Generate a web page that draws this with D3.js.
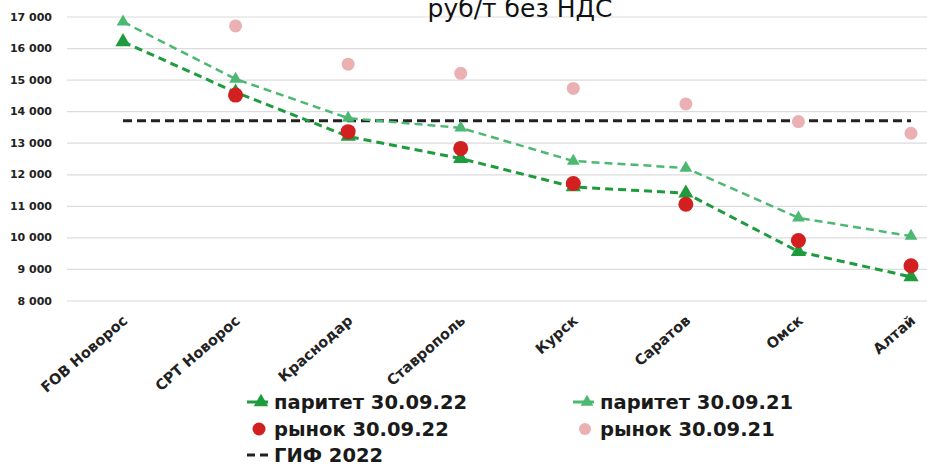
<!DOCTYPE html>
<html>
<head>
<meta charset="utf-8">
<script src="https://cdn.jsdelivr.net/npm/d3@7"></script>
<style>
  html, body { margin: 0; padding: 0; background: #fff; }
  svg { display: block; }
</style>
</head>
<body>
<svg id="chart"></svg>
<script>
// значения, руб/т без НДС
var categories = ['FOB Новорос', 'CPT Новорос', 'Краснодар', 'Ставрополь', 'Курск', 'Саратов', 'Омск', 'Алтай']
var parity22 = [16200, 14600, 13200, 12500, 11600, 11400, 9550, 8750]
var parity21 = [16830, 15020, 13780, 13470, 12420, 12200, 10620, 10040]
var market22 = [null, 14510, 13350, 12820, 11710, 11050, 9900, 9100]
var market21 = [null, 16700, 15490, 15200, 14720, 14230, 13670, 13300]
var gif2022 = [13700, 13700, 13700, 13700, 13700, 13700, 13700, 13700]
var yTicks = [8000, 9000, 10000, 11000, 12000, 13000, 14000, 15000, 16000, 17000]

var legendItems = [
    {name: 'паритет 30.09.22', kind: 'tri', col: 0, row: 0},
    {name: 'рынок 30.09.22', kind: 'dot', col: 0, row: 1},
    {name: 'ГИФ 2022', kind: 'dash', col: 0, row: 2},
    {name: 'паритет 30.09.21', kind: 'tri', col: 1, row: 0},
    {name: 'рынок 30.09.21', kind: 'dot', col: 1, row: 1}
]

var width = 927,
    height = 467

var darkGreen = '#1e9b3d',
    lightGreen = '#4cb872',
    red = '#d21f1f',
    pink = '#eab0b2'

var svg = d3.select('#chart')
    .attr('width', width)
    .attr('height', height)

var x = d3.scalePoint().domain(categories).range([123, 911])
var y = d3.scaleLinear().domain([8000, 17000]).range([300.5, 16.5])

var fmt = d3.formatLocale({decimal: ',', thousands: ' ', grouping: [3], currency: ['', '']}).format(',d')

// сетка и подписи оси Y
var yAxis = d3.axisLeft(y).tickValues(yTicks).tickFormat(fmt).tickSize(-(width - 67)).tickPadding(15)
var gy = svg.append('g')
    .attr('transform', 'translate(67,0)')
    .call(yAxis)
gy.select('.domain').remove()
gy.selectAll('.tick line').attr('stroke', '#dcdcdc').attr('stroke-width', 1.2)
gy.selectAll('.tick text')
    .attr('fill', '#222')
    .style('font-family', 'DejaVu Sans')
    .style('font-weight', 'bold')
    .style('font-size', '11px')

// заголовок (в оригинале обрезан сверху)
svg.append('text')
    .attr('x', 520)
    .attr('y', 17)
    .attr('text-anchor', 'middle')
    .attr('fill', '#111')
    .style('font-family', 'DejaVu Sans')
    .style('font-size', '25px')
    .text('руб/т без НДС')

// подписи категорий
var gx = svg.append('g')
    .attr('transform', 'translate(0,301)')
    .call(d3.axisBottom(x).tickSize(0).tickPadding(0))
gx.select('.domain').remove()
gx.selectAll('.tick text')
    .attr('text-anchor', 'end')
    .attr('dy', 0)
    .attr('transform', 'translate(5,21) rotate(-41)')
    .attr('fill', '#222')
    .style('font-family', 'DejaVu Sans')
    .style('font-weight', 'bold')
    .style('font-size', '14.5px')

var line = d3.line()
    .defined(function(d) { return d != null })
    .x(function(d, i) { return x(categories[i]) })
    .y(function(d) { return y(d) })

svg.append('path').datum(gif2022)
    .attr('d', line)
    .attr('fill', 'none')
    .attr('stroke', '#222')
    .attr('stroke-width', 3)
    .attr('stroke-dasharray', '9,5')

svg.append('path').datum(parity21)
    .attr('d', line)
    .attr('fill', 'none')
    .attr('stroke', lightGreen)
    .attr('stroke-width', 2.5)
    .attr('stroke-dasharray', '8,5')

svg.append('path').datum(parity22)
    .attr('d', line)
    .attr('fill', 'none')
    .attr('stroke', darkGreen)
    .attr('stroke-width', 3)
    .attr('stroke-dasharray', '8,5')

var tri = d3.symbol().type(d3.symbolTriangle)

function points(data) {
    return data.map(function(d, i) { return {v: d, c: categories[i]} }).filter(function(d) { return d.v != null })
}

svg.append('g').selectAll('path').data(points(parity21))
    .enter()
    .append('path')
    .attr('d', tri.size(70))
    .attr('transform', function(d) { return 'translate(' + x(d.c) + ',' + y(d.v) + ')' })
    .attr('fill', lightGreen)

svg.append('g').selectAll('circle').data(points(market21))
    .enter()
    .append('circle')
    .attr('cx', function(d) { return x(d.c) })
    .attr('cy', function(d) { return y(d.v) })
    .attr('r', 6.5)
    .attr('fill', pink)

svg.append('g').selectAll('path').data(points(parity22))
    .enter()
    .append('path')
    .attr('d', tri.size(100))
    .attr('transform', function(d) { return 'translate(' + x(d.c) + ',' + y(d.v) + ')' })
    .attr('fill', darkGreen)

svg.append('g').selectAll('circle').data(points(market22))
    .enter()
    .append('circle')
    .attr('cx', function(d) { return x(d.c) })
    .attr('cy', function(d) { return y(d.v) })
    .attr('r', 7.5)
    .attr('fill', red)

// легенда
var colX = [247, 573],
    rowY = [402, 429, 455]

var legend = svg.append('g').selectAll('g').data(legendItems)
    .enter()
    .append('g')
    .attr('transform', function(d) { return 'translate(' + colX[d.col] + ',' + rowY[d.row] + ')' })

legend.each(function(d) {
    var g = d3.select(this)
    var c = d.name.indexOf('22') > 0 ? (d.kind == 'tri' ? darkGreen : red) : (d.kind == 'tri' ? lightGreen : pink)
    if (d.kind == 'tri') {
        g.append('line').attr('x1', 0).attr('x2', 21).attr('y1', 0).attr('y2', 0)
            .attr('stroke', c).attr('stroke-width', 3)
        g.append('path').attr('d', tri.size(d.col == 0 ? 90 : 70))
            .attr('transform', 'translate(14,0)').attr('fill', c)
    } else if (d.kind == 'dot') {
        g.append('circle').attr('cx', 12).attr('cy', 0).attr('r', d.col == 0 ? 6.5 : 6).attr('fill', c)
    } else {
        g.append('line').attr('x1', 0).attr('x2', 21).attr('y1', 0).attr('y2', 0)
            .attr('stroke', '#222').attr('stroke-width', 3).attr('stroke-dasharray', '8,5')
    }
    g.append('text')
        .attr('x', 27)
        .attr('y', 7)
        .attr('fill', '#1a1a1a')
        .style('font-family', 'DejaVu Sans')
        .style('font-weight', 'bold')
        .style('font-size', '19.5px')
        .text(d.name)
})
</script>
</body>
</html>
